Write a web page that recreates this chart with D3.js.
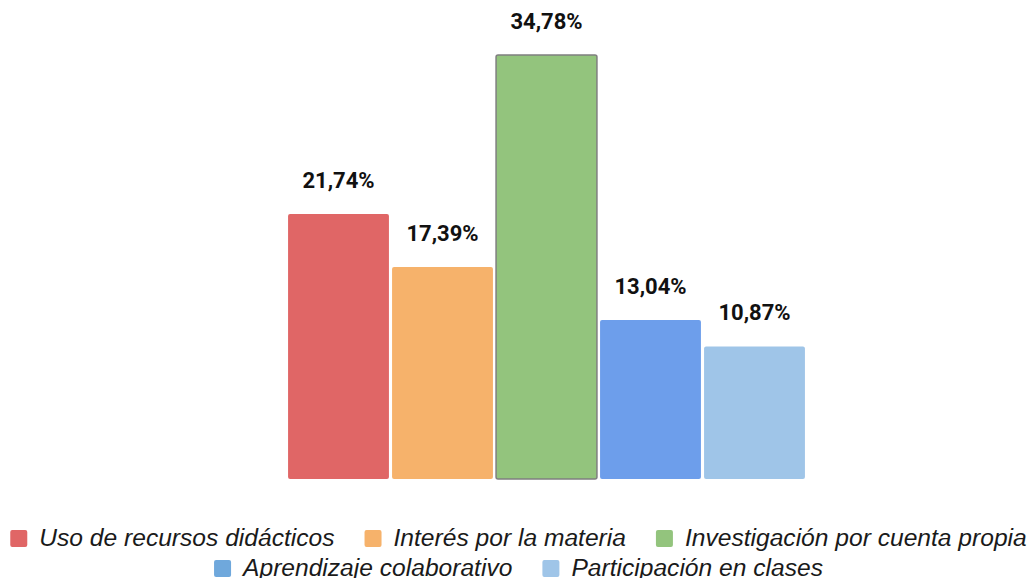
<!DOCTYPE html>
<html>
<head>
<meta charset="utf-8">
<script src="https://cdn.jsdelivr.net/npm/d3@7/dist/d3.min.js"></script>
<style>
  html, body { margin: 0; padding: 0; background: #ffffff; }
  svg { display: block; }
</style>
</head>
<body>
<svg id="chart" width="1032" height="578"></svg>
<script>
// Data
const categories = [
  "Uso de recursos didácticos",
  "Interés por la materia",
  "Investigación por cuenta propia",
  "Aprendizaje colaborativo",
  "Participación en clases"
];
const values = [21.74, 17.39, 34.78, 13.04, 10.87];
const valueLabels = ["21,74%", "17,39%", "34,78%", "13,04%", "10,87%"];
const colors = ["#e06666", "#f6b26b", "#93c47d", "#6d9eeb", "#9fc5e8"];
const legendColors = ["#e06666", "#f6b26b", "#93c47d", "#6fa8dc", "#9fc5e8"];
const highlighted = "Investigación por cuenta propia";
const legendRows = [[0, 1, 2], [3, 4]];

const svg = d3.select("#chart");

const x = d3.scaleBand()
  .domain(categories)
  .range([286.5, 806.5])
  .paddingInner(0.03)
  .paddingOuter(0.015);

const baseline = 479;
const y = d3.scaleLinear()
  .domain([0, 35])
  .range([baseline, baseline - 35 * 12.19]);

const data = categories.map((c, i) => ({ cat: c, value: values[i], label: valueLabels[i], color: colors[i] }));

// Bars
svg.append("g")
  .selectAll("rect")
  .data(data)
  .join("rect")
  .attr("x", d => x(d.cat))
  .attr("y", d => y(d.value))
  .attr("width", x.bandwidth())
  .attr("height", d => y(0) - y(d.value))
  .attr("rx", 2)
  .attr("fill", d => d.color)
  .attr("stroke", d => d.cat === highlighted ? "#7f7f7f" : "none")
  .attr("stroke-width", 1.5);

// Value labels
svg.append("g")
  .selectAll("text")
  .data(data)
  .join("text")
  .attr("x", d => x(d.cat) + x.bandwidth() / 2)
  .attr("y", d => y(d.value) - 26)
  .attr("text-anchor", "middle")
  .attr("font-family", "Roboto, sans-serif")
  .attr("font-weight", "bold")
  .attr("font-size", "22px")
  .attr("fill", "#111111")
  .text(d => d.label);

// Legend
const legend = svg.append("g");
const sq = 17, gapText = 12, gapItem = 30, fontSize = 24.6;
const rowBaselines = [546, 576];
const center = 518.5;

legendRows.forEach((row, r) => {
  const g = legend.append("g");
  let cursor = 0;
  row.forEach(i => {
    const item = g.append("g").attr("transform", `translate(${cursor},0)`);
    item.append("rect")
      .attr("x", 0)
      .attr("y", rowBaselines[r] - 16)
      .attr("width", sq)
      .attr("height", sq)
      .attr("rx", 2)
      .attr("fill", legendColors[i]);
    const t = item.append("text")
      .attr("x", sq + gapText)
      .attr("y", rowBaselines[r])
      .attr("font-family", "'Liberation Sans', Arial, sans-serif")
      .attr("font-style", "italic")
      .attr("font-size", fontSize + "px")
      .attr("fill", "#1a1a1a")
      .text(categories[i]);
    cursor += sq + gapText + t.node().getComputedTextLength() + gapItem;
  });
  const total = cursor - gapItem;
  g.attr("transform", `translate(${center - total / 2},0)`);
});
</script>
</body>
</html>
